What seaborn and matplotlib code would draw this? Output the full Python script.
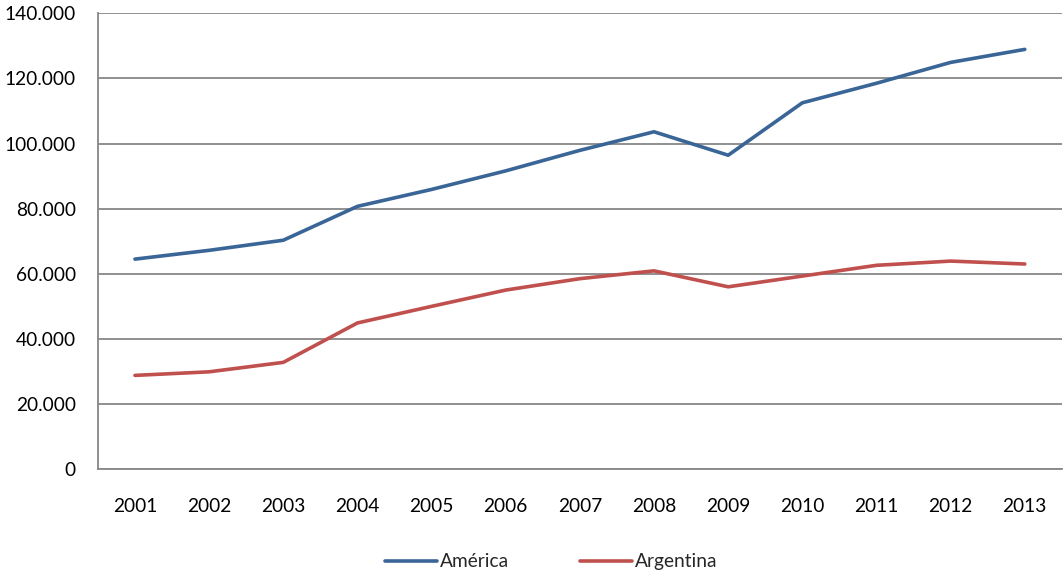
import matplotlib.pyplot as plt
import seaborn as sns
import pandas as pd
from matplotlib.ticker import FuncFormatter

# data
years = [2001, 2002, 2003, 2004, 2005, 2006, 2007, 2008, 2009, 2010, 2011, 2012, 2013]
america = [64500, 67200, 70300, 80700, 85900, 91600, 97900, 103600, 96400, 112500, 118500, 124900, 128900]
argentina = [28800, 29900, 32800, 44900, 50000, 55000, 58500, 60900, 56000, 59300, 62600, 63900, 63000]

df = pd.DataFrame({"year": years * 2,
                   "value": america + argentina,
                   "serie": ["América"] * len(years) + ["Argentina"] * len(years)})

sns.set_style("white")
plt.rcParams["font.family"] = ["Lato", "DejaVu Sans"]

fig = plt.figure(figsize=(10.64, 5.75), dpi=100)
ax = fig.add_axes([0.092, 0.184, 0.906, 0.793])

sns.lineplot(data=df, x="year", y="value", hue="serie",
             palette={"América": "#3A6597", "Argentina": "#C0504D"},
             linewidth=2.6, ax=ax, legend=False)

ax.set_xlim(2000.5, 2013.5)
ax.set_ylim(0, 140000)
ax.set_xticks(years)
ax.set_yticks(range(0, 140001, 20000))
ax.yaxis.set_major_formatter(FuncFormatter(lambda v, p: "0" if v == 0 else f"{int(v):,}".replace(",", ".")))
ax.grid(axis="y", color="#878787", linewidth=1.3)
ax.set_axisbelow(True)
ax.tick_params(axis="both", length=0, labelsize=13.8, colors="black")
ax.tick_params(axis="x", pad=21)
ax.tick_params(axis="y", pad=16)
ax.set_xlabel("")
ax.set_ylabel("")

for s in ["top", "right"]:
    ax.spines[s].set_visible(False)
for s in ["left", "bottom"]:
    ax.spines[s].set_color("#878787")
    ax.spines[s].set_linewidth(1.3)

handles = [plt.Line2D([], [], color="#3A6597", linewidth=2.6),
           plt.Line2D([], [], color="#C0504D", linewidth=2.6)]
fig.legend(handles, ["América", "Argentina"], loc="lower center",
           bbox_to_anchor=(0.518, -0.022), ncol=2, frameon=False,
           fontsize=13.8, handlelength=2.7, handletextpad=0.15, columnspacing=3.7)

fig.savefig("out.png", dpi=100)
